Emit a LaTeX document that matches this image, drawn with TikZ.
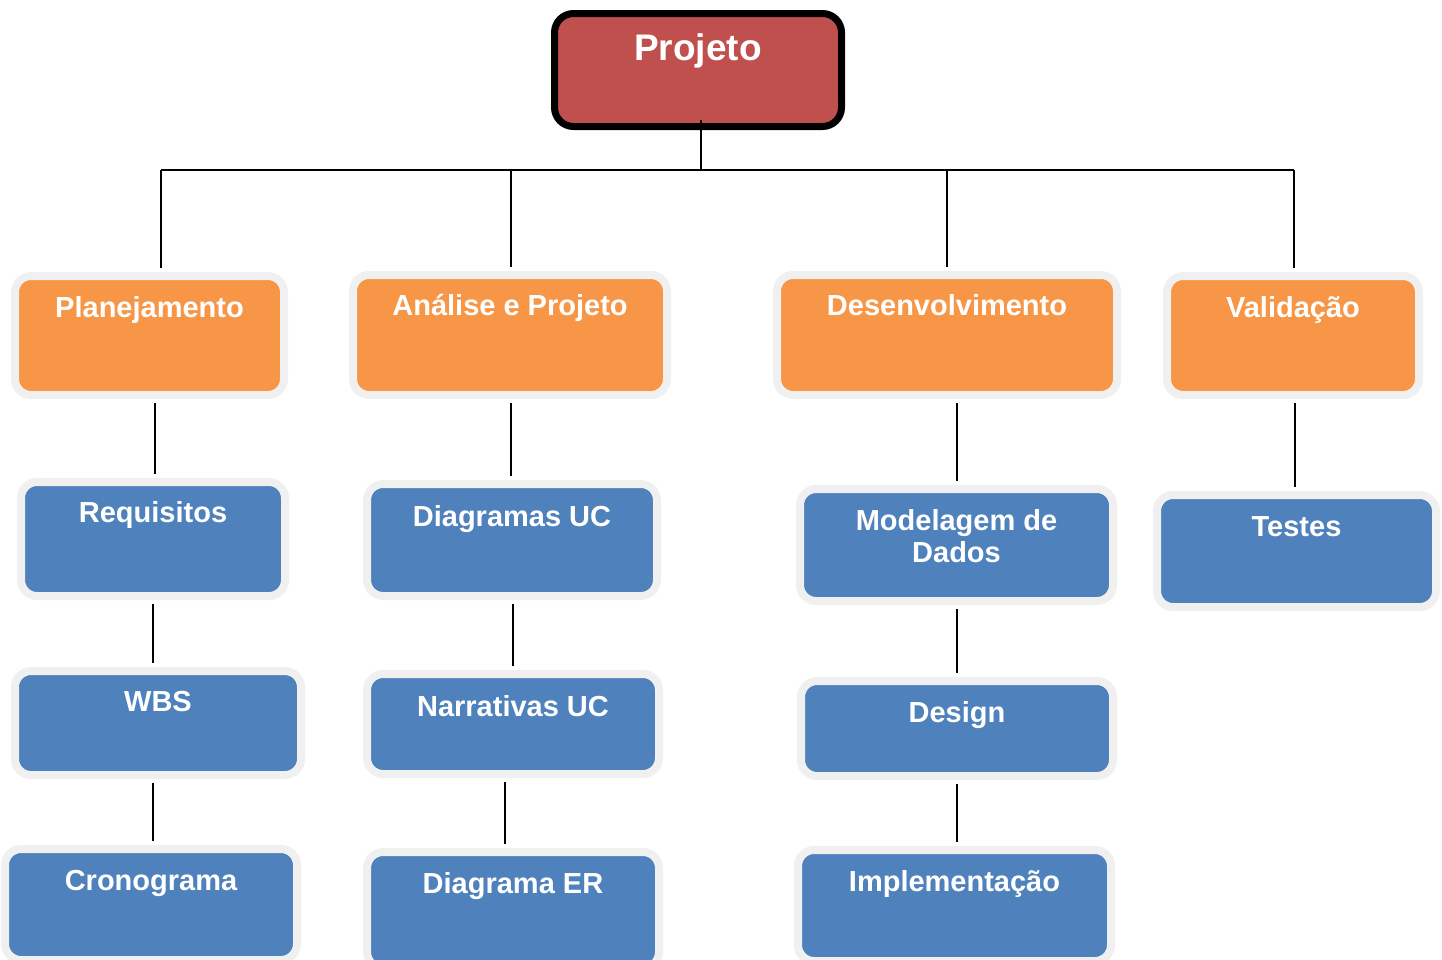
\documentclass[tikz,border=0pt]{standalone}
\usepackage{fontspec}
\setmainfont{Liberation Sans}
\definecolor{cred}{HTML}{C0504D}
\definecolor{corange}{HTML}{F79646}
\definecolor{cblue}{HTML}{4F81BD}
\definecolor{cgray}{HTML}{F0F0F0}
\tikzset{
  box/.style={draw=cgray, line width=8pt, rounded corners=16pt, inner sep=0pt},
  obox/.style={box, fill=corange},
  bbox/.style={box, fill=cblue},
  rbox/.style={draw=black, line width=7pt, rounded corners=19pt, fill=cred, inner sep=0pt},
  txt/.style={text=white, font=\bfseries\fontsize{29}{32}\selectfont, anchor=base, align=center, inner sep=0pt},
  bigtxt/.style={text=white, font=\bfseries\fontsize{37}{42}\selectfont, anchor=base, inner sep=0pt},
  wire/.style={draw=black, line width=2.8pt},
  conn/.style={wire, shorten <=4pt, shorten >=4pt},
}
% name, x1, y1, x2, y2 (fill area), style
\newcommand\mkbox[6]{%
  \node[#6, minimum width={#4-#2+8}, minimum height={#5-#3+8}] (#1) at ({(#2+#4)/2},{(#3+#5)/2}) {};}
\begin{document}
\begin{tikzpicture}[x=1pt,y=-1pt]
\useasboundingbox (0,0) rectangle (1442,959);
% top box
\node[rbox, minimum width=287, minimum height=113] (proj) at (698,70) {};
\node[bigtxt] (projt) at (698,60) {Projeto};
% level 1
\mkbox{plan}{19}{280}{280}{391}{obox}
\mkbox{ana}{357}{279}{663}{391}{obox}
\mkbox{des}{781}{279}{1113}{391}{obox}
\mkbox{val}{1171}{280}{1415}{391}{obox}
% level 2+
\mkbox{req}{25}{486}{281}{592}{bbox}
\mkbox{wbs}{19}{675}{297}{771}{bbox}
\mkbox{cro}{9}{853}{293}{956}{bbox}
\mkbox{dgu}{371}{488}{653}{592}{bbox}
\mkbox{nar}{371}{678}{655}{770}{bbox}
\mkbox{der}{371}{856}{655}{964}{bbox}
\mkbox{mod}{804}{493}{1109}{597}{bbox}
\mkbox{dsg}{805}{685}{1109}{772}{bbox}
\mkbox{imp}{802}{854}{1107}{957}{bbox}
\mkbox{tst}{1161}{499}{1432}{603}{bbox}
% texts
\node[txt] (plant) at (149.5,317) {Planejamento};
\node[txt] (anat) at (510,315) {Análise e Projeto};
\node[txt] (dest) at (947,315) {Desenvolvimento};
\node[txt] (valt) at (1293,317) {Validação};
\node[txt] (reqt) at (153,522) {Requisitos};
\node[txt] (wbst) at (158,711) {WBS};
\node[txt] (crot) at (151,890) {Cronograma};
\node[txt] (dgut) at (512,526) {Diagramas UC};
\node[txt] (nart) at (513,716) {Narrativas UC};
\node[txt] (dert) at (513,893) {Diagrama ER};
\node[txt] (modt) at (956.5,562) {Modelagem de\\Dados};
\node[txt] (dsgt) at (957,722) {Design};
\node[txt] (impt) at (954.5,891) {Implementação};
\node[txt] (tstt) at (1296.5,536) {Testes};
% connectors
\coordinate (pj) at (701,120);
\coordinate (bus) at (701,170);
\draw[wire] (pj) -- (bus);
\draw[wire] ([xshift=11.5pt]plan.north |- bus) -- ([xshift=1pt]val.north |- bus);
\draw[conn, shorten <=0pt] ([xshift=11.5pt]plan.north |- bus) -- ([xshift=11.5pt]plan.north);
\draw[conn, shorten <=0pt] ([xshift=1pt]ana.north |- bus) -- ([xshift=1pt]ana.north);
\draw[conn, shorten <=0pt] (des.north |- bus) -- (des.north);
\draw[conn, shorten <=0pt] ([xshift=1pt]val.north |- bus) -- ([xshift=1pt]val.north);
\draw[conn] ([xshift=5.5pt]plan.south) -- ([xshift=2pt]req.north);
\draw[conn] (req.south) -- ([xshift=-5pt]wbs.north);
\draw[conn] ([xshift=-5pt]wbs.south) -- ([xshift=2pt]cro.north);
\draw[conn] ([xshift=1pt]ana.south) -- ([xshift=-1pt]dgu.north);
\draw[conn] ([xshift=1pt]dgu.south) -- (nar.north);
\draw[conn] ([xshift=-8pt]nar.south) -- ([xshift=-8pt]der.north);
\draw[conn] ([xshift=10pt]des.south) -- ([xshift=0.5pt]mod.north);
\draw[conn] ([xshift=0.5pt]mod.south) -- (dsg.north);
\draw[conn] (dsg.south) -- ([xshift=2.5pt]imp.north);
\draw[conn] ([xshift=2pt]val.south) -- ([xshift=-1.5pt]tst.north);
\end{tikzpicture}
\end{document}
